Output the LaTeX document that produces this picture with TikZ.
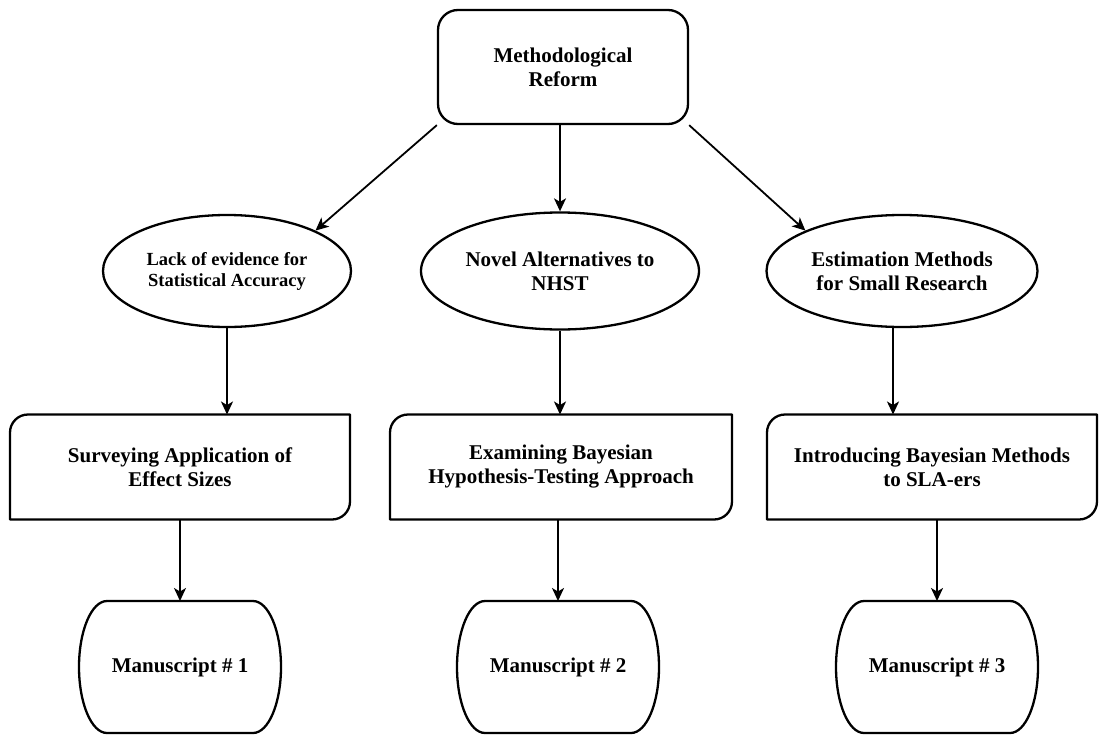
\documentclass[tikz,border=0pt]{standalone}
\usepackage{fontspec}
\setmainfont{Liberation Serif}
\usetikzlibrary{shapes.geometric,arrows.meta,calc}
\newcommand\drawrbox[1]{\draw[shp] (#1.south west) -- ([yshift=-18pt]#1.north west) arc[start angle=180,end angle=90,radius=18pt] -- (#1.north east) -- ([yshift=18pt]#1.south east) arc[start angle=0,end angle=-90,radius=18pt] -- cycle;}
\newcommand\drawmscript[1]{\draw[shp] (#1.north west) -- (#1.north east) arc[start angle=90,end angle=-90,x radius=28pt,y radius=66pt] -- (#1.south west) arc[start angle=270,end angle=90,x radius=28pt,y radius=66pt] -- cycle;}
\begin{document}
\begin{tikzpicture}[x=1pt,y=-1pt,
  every node/.style={font=\bfseries\fontsize{21}{24}\selectfont, align=center, inner sep=0pt},
  shp/.style={line width=2.3pt, line join=round},
  topbox/.style={draw, shp, rounded corners=20pt, minimum width=250pt, minimum height=114pt},
  oval/.style={draw, shp, ellipse},
  corebox/.style={outer sep=0pt, minimum width=#1, minimum height=105pt},
  msbox/.style={outer sep=0pt, minimum width=146pt, minimum height=132pt},
  arr/.style={line width=1.8pt, -{Stealth[length=13pt,width=12pt,inset=3.5pt]}},
]
\useasboundingbox (0,0) rectangle (1099,736);

\node[topbox] (top) at (563,67) {Methodological\\Reform};

\node[oval, minimum width=248pt, minimum height=112pt, font=\bfseries\fontsize{18.5}{21}\selectfont] (e1) at (227,271) {Lack of evidence for\\Statistical Accuracy};
\node[oval, minimum width=278pt, minimum height=117pt] (e2) at (560,271) {Novel Alternatives to\\NHST};
\node[oval, minimum width=271pt, minimum height=112pt] (e3) at (902,271) {Estimation Methods\\for Small Research};

\node[corebox=340pt] (r1) at (180,467) {Surveying Application of\\Effect Sizes};
\node[corebox=342pt] (r2) at (561,467) {Examining Bayesian\\Hypothesis-Testing Approach};
\node[corebox=330pt] (r3) at (932,467) {Introducing Bayesian Methods\\to SLA-ers};
\drawrbox{r1}
\drawrbox{r2}
\drawrbox{r3}

\node[msbox] (m1) at (180,667) {Manuscript \# 1};
\node[msbox] (m2) at (558,667) {Manuscript \# 2};
\node[msbox] (m3) at (937,667) {Manuscript \# 3};
\drawmscript{m1}
\drawmscript{m2}
\drawmscript{m3}

\draw[arr] (top.south west) -- (e1.north east);
\draw[arr] (top.south -| e2.north) -- (e2.north);
\draw[arr] (top.south east) -- (e3.north west);

\draw[arr] (e1.south) -- (e1.south |- r1.north);
\draw[arr] (e2.south) -- (e2.south |- r2.north);
\draw[arr] ([xshift=-9pt]e3.south) -- ([xshift=-9pt]e3.south |- r3.north);

\draw[arr] (r1.south -| m1.north) -- (m1.north);
\draw[arr] (r2.south -| m2.north) -- (m2.north);
\draw[arr] (r3.south -| m3.north) -- (m3.north);
\end{tikzpicture}
\end{document}
